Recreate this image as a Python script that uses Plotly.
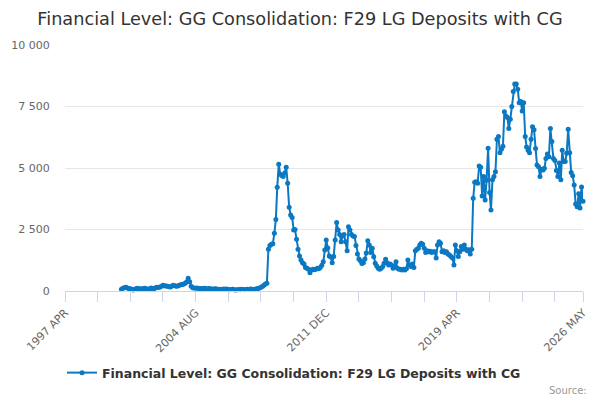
import pandas as pd
import plotly.graph_objects as go

# monthly values, June 2000 .. May 2026
first_month = "2000-06-01"
deposits = [
    70, 110, 130, 150, 120, 100, 90,                                      # 2000 Jun-Dec
    70, 40, 60, 100, 110, 90, 80, 90, 100, 110, 80, 70,                   # 2001
    90, 120, 100, 90, 130, 150, 140, 160, 190, 230, 210, 200,             # 2002
    190, 170, 160, 200, 230, 210, 190, 200, 230, 250, 260, 280,           # 2003
    310, 380, 515, 380, 190, 130, 120, 110, 120, 100, 90, 100,            # 2004
    100, 110, 90, 80, 100, 90, 80, 70, 90, 80, 70, 60,                    # 2005
    70, 60, 80, 70, 80, 60, 50, 60, 70, 50, 40, 50,                       # 2006
    60, 50, 70, 60, 50, 60, 70, 60, 80, 70, 60, 70,                       # 2007
    90, 100, 120, 150, 180, 230, 280, 320, 1700, 1850, 1900, 1920,        # 2008
    2345, 2910, 4215, 5150, 4745, 4700, 4650, 4800, 5030, 4380, 3400, 3090,  # 2009
    2990, 2480, 2500, 2100, 1700, 1420, 1260, 1150, 1100, 960, 920, 880,  # 2010
    745, 850, 880, 860, 880, 920, 900, 960, 1050, 1190, 1665, 2070,       # 2011
    1750, 1420, 1380, 1150, 1400, 2070, 2780, 2480, 2300, 2000, 2240, 2300,  # 2012
    2000, 1640, 2610, 2480, 2300, 2240, 2220, 1850, 1500, 1300, 1230, 1120,  # 2013
    1150, 1300, 1540, 2045, 1870, 1560, 1735, 1395, 1125, 1015, 920, 880,  # 2014
    920, 1000, 1125, 1290, 1150, 1055, 1100, 1055, 920, 1000, 1190, 920,  # 2015
    880, 880, 850, 880, 850, 900, 1260, 1055, 1000, 1100, 960, 1640,      # 2016
    1700, 1735, 1870, 1940, 1900, 1735, 1560, 1640, 1600, 1620, 1560, 1600,  # 2017
    1600, 1340, 1870, 2000, 1940, 1600, 1640, 1560, 1600, 1500, 1465, 1400,  # 2018
    1340, 1055, 1870, 1640, 1400, 1600, 1805, 1700, 1870, 1700, 1640, 1680,  # 2019
    1500, 1700, 3770, 4420, 4440, 4380, 5080, 5030, 3860, 4650, 3700, 4500,  # 2020
    5800, 4000, 3290, 4520, 4650, 4850, 6170, 6280, 5620, 5760, 5880, 7290,  # 2021
    7110, 7050, 6610, 6980, 7500, 8110, 8410, 8410, 8200, 7650, 7700, 7320,  # 2022
    7650, 6280, 5850, 5720, 5620, 6170, 6680, 6550, 5790, 5120, 5050, 4650,  # 2023
    4950, 4920, 4990, 5390, 5570, 5460, 6610, 6080, 5390, 5300, 4900, 4650,  # 2024
    5200, 4520, 5720, 5260, 5260, 5600, 6580, 5620, 4820, 4680, 4310, 3540,  # 2025
    3420, 3950, 3370, 4230, 3650,                                         # 2026 Jan-May
]

series_name = "Financial Level: GG Consolidation: F29 LG Deposits with CG"

tick_dates = ["1997-04-01", "2004-08-01", "2011-12-01", "2019-04-01", "2026-05-01"]
tick_labels = ["1997 APR", "2004 AUG", "2011 DEC", "2019 APR", "2026 MAY"]
minor_dates = ["1999-02-01", "2000-12-01", "2002-10-01", "2006-06-01", "2008-04-01",
               "2010-02-01", "2013-10-01", "2015-08-01", "2017-06-01", "2021-02-01",
               "2022-12-01", "2024-10-01"]
y_ticks = [0, 2500, 5000, 7500, 10000]

dates = pd.date_range(first_month, periods=len(deposits), freq="MS")

fig = go.Figure()
fig.add_trace(go.Scatter(x=dates, y=deposits,
                         mode="lines+markers",
                         name=series_name,
                         line=dict(color="#0a78c2", width=2),
                         marker=dict(color="#0a78c2", size=5),
                         cliponaxis=False))

fig.update_layout(
    width=600, height=400,
    font=dict(family="DejaVu Sans", color="#333333"),
    paper_bgcolor="white", plot_bgcolor="white",
    margin=dict(l=65, r=17, t=45, b=109, autoexpand=False),
    separators=". ",
    title=dict(text="Financial Level: GG Consolidation: F29 LG Deposits with CG",
               x=0.5, xanchor="center", y=0.953, yanchor="middle",
               yref="container", font=dict(size=17.7, color="#333333")),
    showlegend=True,
    legend=dict(orientation="h", xref="container", yref="container",
                x=0.49, xanchor="center", y=0.0675, yanchor="middle",
                itemwidth=30,
                font=dict(size=12.5, color="#333333", weight="bold")),
    xaxis=dict(range=["1997-04-01", "2026-05-01"], automargin=False,
               tickmode="array", tickvals=tick_dates, ticktext=tick_labels,
               tickangle=-45, tickfont=dict(size=11, color="#666666"),
               ticks="outside", ticklen=10, tickcolor="#ccd6eb",
               showline=True, linecolor="#ccd6eb", linewidth=1,
               showgrid=False, zeroline=False,
               minor=dict(tickmode="array", tickvals=minor_dates, ticks="outside",
                          ticklen=10, tickcolor="#ccd6eb", showgrid=False)),
    yaxis=dict(range=[0, 10000], automargin=False,
               tickmode="array", tickvals=y_ticks,
               tickformat=",d", tickfont=dict(size=11, color="#666666"),
               ticks="outside", ticklen=12, tickcolor="rgba(0,0,0,0)",
               gridcolor="#e6e6e6", gridwidth=1, zeroline=False, showline=False),
)

fig.add_annotation(text="Source:", xref="paper", yref="paper",
                   x=(589 - 65) / 518, y=(291 - 390) / 246,
                   xanchor="right", yanchor="middle", showarrow=False,
                   font=dict(size=10, color="#999999"))

# the page's default body margin would shift the 600x400 figure
fig.write_html("out.html", config={"displayModeBar": False},
               post_script="document.body.style.margin = '0';")
